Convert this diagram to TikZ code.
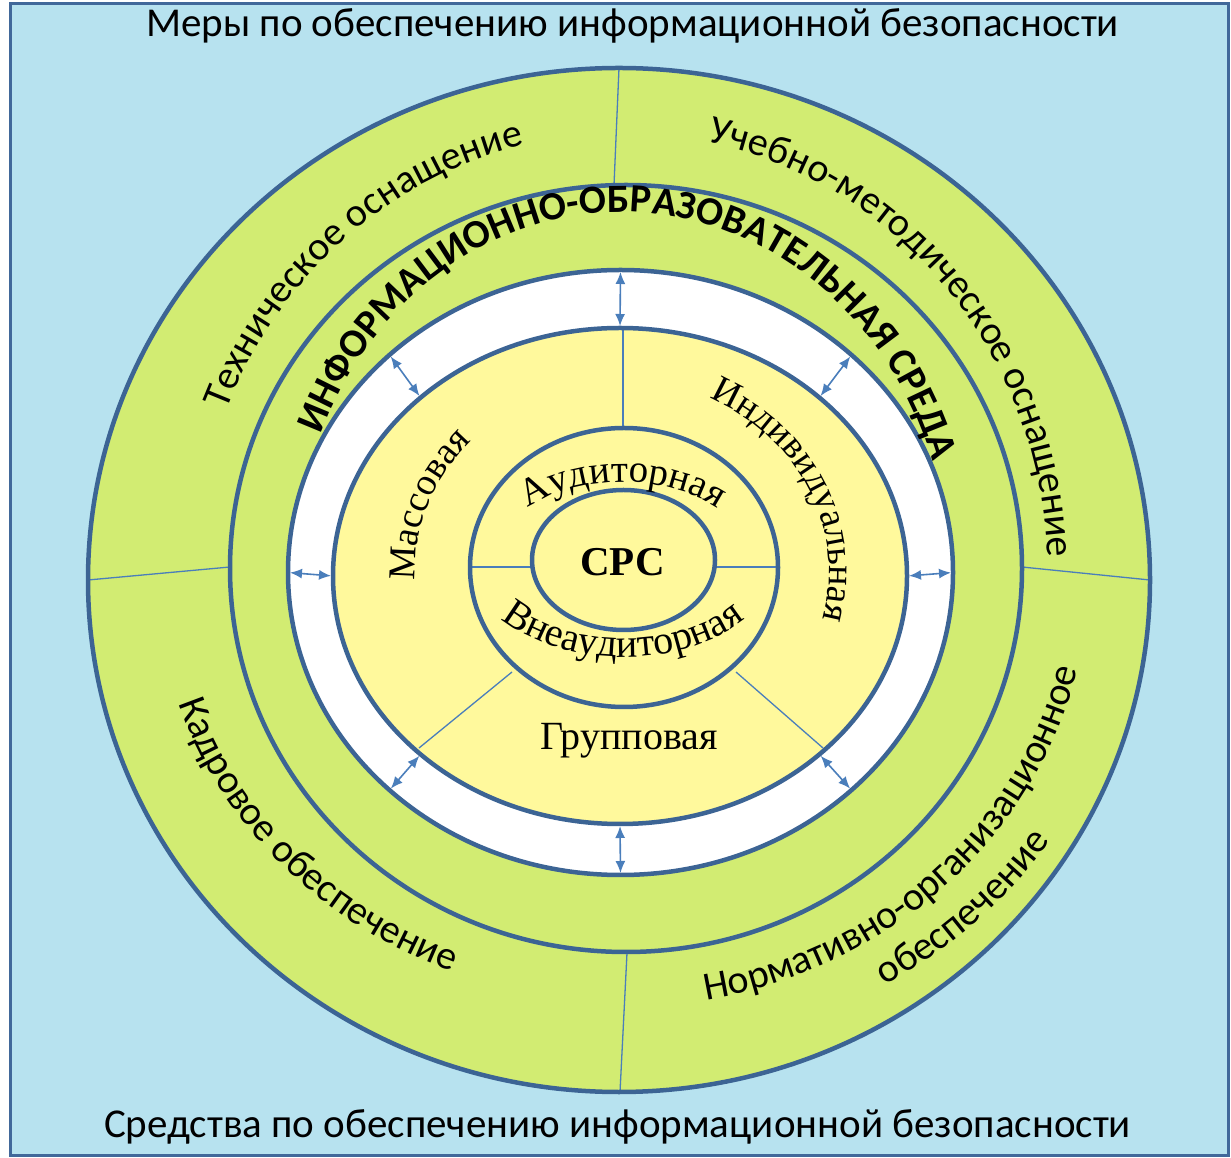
\documentclass[tikz,border=0pt]{standalone}
\usepackage{fontspec}
\setmainfont{Liberation Serif}
\setsansfont{Carlito}
\usetikzlibrary{calc,decorations.text,arrows.meta}
\definecolor{bgblue}{HTML}{B7E2EF}
\definecolor{ringgreen}{HTML}{D2EC72}
\definecolor{coreyellow}{HTML}{FFF99C}
\definecolor{ringline}{HTML}{3C6494}
\definecolor{thinline}{HTML}{4A7EBB}
\definecolor{frameblue}{HTML}{41689A}
\begin{document}
\begin{tikzpicture}[x=1pt,y=1pt,
  ring/.style={draw=ringline, line width=4.5pt},
  divider/.style={draw=thinline, line width=1.3pt},
  dblarrow/.style={draw=thinline, line width=1.6pt, {Latex[length=12pt,width=10pt]}-{Latex[length=12pt,width=10pt]}, shorten <=2pt, shorten >=2pt},
  titletext/.style={font=\sffamily\fontsize{41}{46}\selectfont, anchor=base, inner sep=0pt},
  seriftext/.style={font=\rmfamily\fontsize{40}{44}\selectfont, inner sep=0pt}
]
\useasboundingbox (0,0) rectangle (1231,1157);
\fill[white] (0,0) rectangle (1231,1157);
\fill[bgblue] (10,2) rectangle (1228,1153);
\draw[frameblue, line width=3pt] (10,2) rectangle (1228,1153);

% centres
\coordinate (c1) at (619,577);
\coordinate (c2) at (626,588.5);
\coordinate (c3) at (620.5,584.5);
\coordinate (c4) at (620,581);
\coordinate (c5) at (624,589.5);
\coordinate (c6) at (623.5,597);
\coordinate (ct) at (622,583);
\coordinate (ci) at (622,585);
\coordinate (cs) at (623,595);

% fills
\fill[ringgreen] (c1) ellipse [x radius=531pt, y radius=512pt];
\fill[white] (c3) ellipse [x radius=332.5pt, y radius=302.5pt];
\fill[coreyellow] (c4) ellipse [x radius=287pt, y radius=248pt];

% dividers
\coordinate (d1a) at (619,1089); \coordinate (d1b) at (614,972);
\coordinate (d2a) at (88,577);   \coordinate (d2b) at (230,590);
\coordinate (d3a) at (1150,577); \coordinate (d3b) at (1022,590);
\coordinate (d4a) at (620,65);   \coordinate (d4b) at (627,204);
\coordinate (y1a) at (623,829);  \coordinate (y1b) at (623,729);
\coordinate (y2a) at (470,590);  \coordinate (y2b) at (532,590);
\coordinate (y3a) at (715,590);  \coordinate (y3b) at (778,590);
\coordinate (y4a) at (512,485);  \coordinate (y4b) at (419,409);
\coordinate (y5a) at (736,485);  \coordinate (y5b) at (823,409);
\foreach \p in {d1,d2,d3,d4,y1,y2,y3,y4,y5}{\draw[divider] (\p a) -- (\p b);}

% ring outlines
\draw[ring] (c1) ellipse [x radius=531pt, y radius=512pt];
\draw[ring] (c2) ellipse [x radius=396pt, y radius=383.5pt];
\draw[ring] (c3) ellipse [x radius=332.5pt, y radius=302.5pt];
\draw[ring] (c4) ellipse [x radius=287pt, y radius=248pt];
\draw[ring] (c5) ellipse [x radius=154pt, y radius=139.5pt];
\draw[ring] (c6) ellipse [x radius=91.5pt, y radius=70pt];

% arrows
\foreach \a in {0,46,90,134,180,226,270,314}{
  \coordinate (ao\a) at ($(c3)+(\a:332.5pt and 302.5pt)$);
  \coordinate (ai\a) at ($(c4)+(\a:287pt and 248pt)$);
  \draw[dblarrow] (ao\a) -- (ai\a);
}

% straight texts
\node[titletext] (toptitle) at (632.5,1120) {Меры по обеспечению информационной безопасности};
\node[titletext] (bottitle) at (617.5,20) {Средства по обеспечению информационной безопасности};
\node[seriftext, font=\rmfamily\bfseries\fontsize{41}{44}\selectfont] (srs) at (622.5,594.5) {СРС};
\node[seriftext, anchor=base] (grp) at (629,407) {Групповая};

% curved texts
\path[decorate, decoration={text along path, text align=center, text={|\sffamily\fontsize{40}{44}\selectfont|Техническое оснащение}}]
  ($(ct)+(175:426pt and 441pt)$) arc[start angle=175, end angle=86, x radius=426pt, y radius=441pt];
\path[decorate, decoration={text along path, text align=center, text={|\sffamily\fontsize{40}{44}\selectfont|Учебно-методическое оснащение}}]
  ($(ct)+(92:426pt and 441pt)$) arc[start angle=92, end angle=-11, x radius=426pt, y radius=441pt];
\path[decorate, decoration={text along path, text align=center, text={|\sffamily\fontsize{40}{44}\selectfont|Кадровое обеспечение}}]
  ($(ct)+(170:465pt and 427pt)$) arc[start angle=170, end angle=274, x radius=465pt, y radius=427pt];
\path[decorate, decoration={text along path, text align=center, text={|\sffamily\fontsize{40}{44}\selectfont|Нормативно-организационное}}]
  ($(ct)+(-97:467pt and 433pt)$) arc[start angle=-97, end angle=6, x radius=467pt, y radius=433pt];
\path[decorate, decoration={text along path, text align=center, text={|\sffamily\fontsize{40}{44}\selectfont|обеспечение}}]
  ($(ct)+(-82:516pt and 478pt)$) arc[start angle=-82, end angle=-10, x radius=516pt, y radius=478pt];
\path[decorate, decoration={text along path, text align=center, text={|\sffamily\bfseries\fontsize{40}{44}\selectfont|ИНФОРМАЦИОННО-ОБРАЗОВАТЕЛЬНАЯ СРЕДА}}]
  ($(ci)+(172:326pt and 360pt)$) arc[start angle=172, end angle=3.4, x radius=326pt, y radius=360pt];
\path[decorate, decoration={text along path, text align=center, text={|\rmfamily\fontsize{38}{40}\selectfont|Массовая}}]
  ($(ci)+(200:207pt and 190pt)$) arc[start angle=200, end angle=120, x radius=207pt, y radius=190pt];
\path[decorate, decoration={text along path, text align=center, text={|\rmfamily\fontsize{38}{40}\selectfont|Индивидуальная}}]
  ($(ci)+(78:207pt and 192pt)$) arc[start angle=78, end angle=-28, x radius=207pt, y radius=192pt];
\path[decorate, decoration={text along path, text align=center, text={|\rmfamily\fontsize{39}{40}\selectfont|Аудиторная}}]
  ($(cs)+(180:128pt and 80pt)$) arc[start angle=180, end angle=0, x radius=128pt, y radius=80pt];
\path[decorate, decoration={text along path, text align=center, text={|\rmfamily\fontsize{40}{40}\selectfont|Внеаудиторная}}]
  ($(cs)+(180:152pt and 95pt)$) arc[start angle=180, end angle=360, x radius=152pt, y radius=95pt];
\end{tikzpicture}
\end{document}
